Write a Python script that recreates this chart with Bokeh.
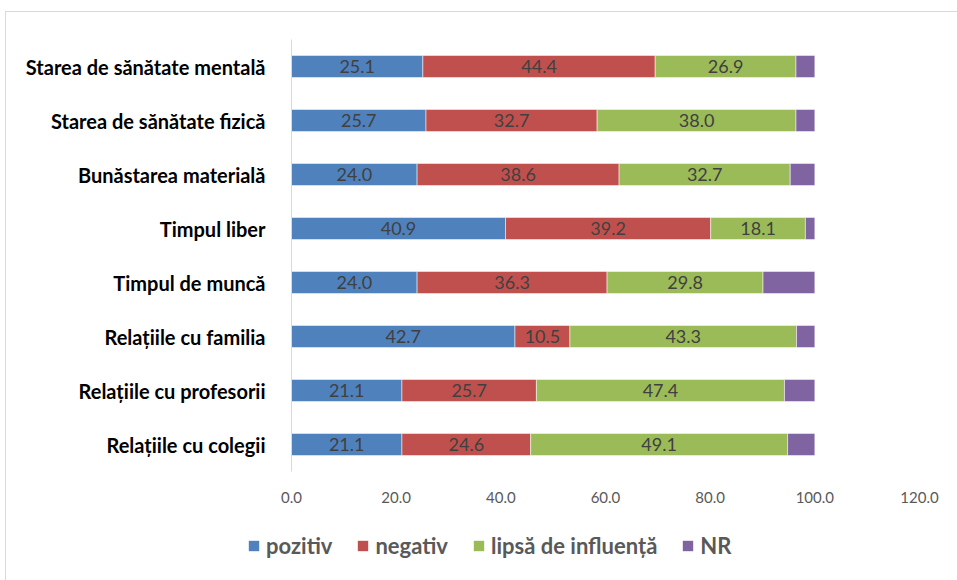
from bokeh.plotting import figure
from bokeh.layouts import column
from bokeh.models import FactorRange, Range1d, Legend, LegendItem, FixedTicker, NumeralTickFormatter, ColumnDataSource
from bokeh.core.properties import value
from bokeh.embed import file_html
from bokeh.resources import INLINE
import numpy as np

categories = ["Starea de sănătate mentală", "Starea de sănătate fizică", "Bunăstarea materială",
              "Timpul liber", "Timpul de muncă", "Relațiile cu familia",
              "Relațiile cu profesorii", "Relațiile cu colegii"]
pozitiv = [25.1, 25.7, 24.0, 40.9, 24.0, 42.7, 21.1, 21.1]
negativ = [44.4, 32.7, 38.6, 39.2, 36.3, 10.5, 25.7, 24.6]
lipsa = [26.9, 38.0, 32.7, 18.1, 29.8, 43.3, 47.4, 49.1]
nr = [3.6, 3.6, 4.7, 1.8, 9.9, 3.5, 5.8, 5.2]
series_names = ["pozitiv", "negativ", "lipsă de influență", "NR"]
colors = ["#4F81BD", "#C0504D", "#9BBB59", "#8064A2"]
x_ticks = [0, 20, 40, 60, 80, 100, 120]

series = [pozitiv, negativ, lipsa, nr]

W = 951
factors = list(reversed(categories))
p = figure(width=W, height=508, output_backend="svg", toolbar_location=None,
           y_range=FactorRange(*factors), x_range=Range1d(0, 120),
           min_border_left=285, min_border_right=38, min_border_top=27, min_border_bottom=49)
p.frame_align = False

# legend strip (its x range lies outside the data, so only the legend shows)
lg = figure(width=W, height=60, output_backend="svg", toolbar_location=None,
            x_range=Range1d(1000, 1010), y_range=FactorRange(*factors),
            x_axis_type=None, y_axis_type=None,
            min_border_left=0, min_border_right=0, min_border_top=0, min_border_bottom=0)
lg.frame_align = False
lg.xgrid.visible = False
lg.ygrid.visible = False
lg.outline_line_color = None

left = np.zeros(len(categories))
items = []
for vals, name, col in zip(series, series_names, colors):
    v = np.array(vals)
    src = ColumnDataSource(dict(y=categories, left=left.copy(), right=left + v,
                                mid=left + v / 2, txt=[f"{x:.1f}" for x in vals]))
    p.hbar(y="y", left="left", right="right", height=0.41, source=src,
           fill_color=col, line_color="white", line_alpha=0.5, line_width=1)
    r = lg.hbar(y="y", left="left", right="right", height=0, source=src,
                fill_color=col, line_color=None)
    items.append(LegendItem(label=name, renderers=[r]))
    if name != "NR":
        p.text(x="mid", y="y", text="txt", source=src, text_align="center",
               text_baseline="middle", text_font=value("Lato"), text_font_size="18px",
               text_color="#404040")
    left = left + v

p.xgrid.visible = False
p.ygrid.visible = False
p.outline_line_color = None

p.xaxis.ticker = FixedTicker(ticks=x_ticks)
p.xaxis.formatter = NumeralTickFormatter(format="0.0")
p.xaxis.axis_line_color = None
p.xaxis.major_tick_line_color = None
p.xaxis.minor_tick_line_color = None
p.xaxis.major_label_standoff = 14
p.xaxis.major_label_text_font = "Lato"
p.xaxis.major_label_text_font_size = "15px"
p.xaxis.major_label_text_color = "#595959"

p.yaxis.axis_line_color = "#D9D9D9"
p.yaxis.major_tick_line_color = None
p.yaxis.minor_tick_line_color = None
p.yaxis.major_label_standoff = 20
p.yaxis.major_label_text_font = "Lato"
p.yaxis.major_label_text_font_style = "bold"
p.yaxis.major_label_text_font_size = "20px"
p.yaxis.major_label_text_color = "#000000"

legend = Legend(items=items, orientation="horizontal", location=(241, 21), padding=0, margin=0,
                spacing=24, glyph_width=13, glyph_height=13, label_standoff=6,
                label_text_font="Lato", label_text_font_style="bold",
                label_text_font_size="22px", label_text_color="#595959",
                border_line_color=None, background_fill_alpha=0)
lg.add_layout(legend, "center")

layout = column(p, lg, spacing=0, margin=(11, 0, 0, 5))
layout.styles = {"border-left": "1px solid #D9D9D9", "border-top": "1px solid #D9D9D9"}

open("out.html", "w").write(file_html(layout, INLINE))
